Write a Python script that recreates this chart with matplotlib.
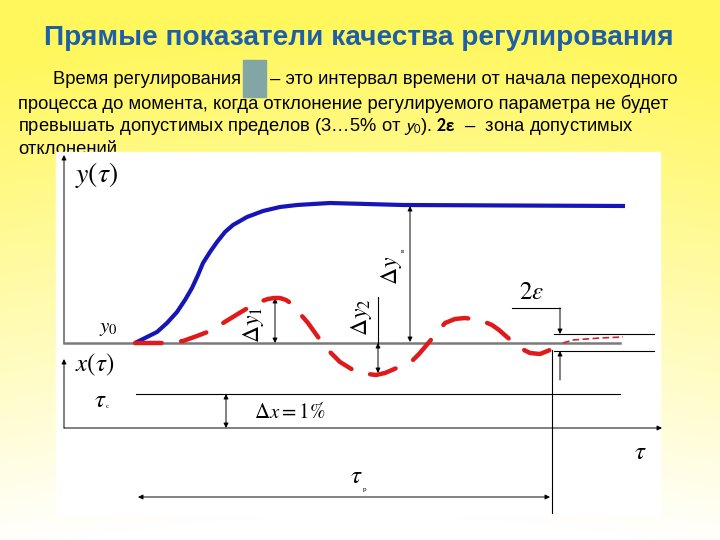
import numpy as np
import matplotlib.pyplot as plt
from matplotlib.patches import Rectangle

plt.rcParams['mathtext.fontset'] = 'stix'

# diagram coordinates: tau to the right from the y axis, y upward from the y0 line
tau_blue = [71, 83, 93, 103, 113, 121, 128, 134, 139, 146, 153, 161, 169, 183,
            199, 216, 233, 249, 266, 339, 561]
y_blue = [0, 6, 11, 20, 31, 43, 55, 68, 80, 91, 101, 111, 118, 126,
          132, 136, 138, 139, 140, 138, 137]

tau_red = [71, 85, 99, 109, 119, 133, 146, 164, 177, 189, 198, 204, 210, 216, 222, 228,
           233, 238, 244, 254, 264, 270, 276, 289, 297, 304, 312, 321, 335,
           349, 355, 361, 371, 381, 391, 401, 416, 428, 435, 443, 456, 466,
           476, 486, 499]
y_red = [0, 0, 0, 1, 2, 7, 12, 23, 31, 38, 42, 44, 45, 45, 43, 39,
         33, 27, 20, 6, -7, -13, -19, -27, -30, -31, -32, -30, -24,
         -17, -11, -4, 8, 20, 24, 25, 23, 18, 13, 6, -5, -10,
         -11, -7, 0]

tau_tail = [499, 509, 536, 559]
y_tail = [0, 3, 5, 6]

eps_band = [9, -8]          # 2ε zone around y0
x_step = -51                # level of x(τ) step
tau_axis = -85              # level of the τ axis
tau_reg = 488               # regulation time
tau_start = 72              # start of the step / transient

paragraph = [
    "процесса до момента, когда отклонение регулируемого параметра не будет",
    "превышать допустимых пределов (3…5% от $y_0$). $\\mathbf{2\\varepsilon}$  –  зона допустимых",
    "отклонений.",
]

fig = plt.figure(figsize=(7.2, 5.4), dpi=100)
ax = fig.add_axes([0, 0, 1, 1])
ax.set_xlim(-64, 656)
ax.set_ylim(-197, 343)
ax.axis('off')

# yellow slide background
gy, gx = np.mgrid[0:1:200j, 0:1:200j]
k = np.clip(1.05 - gy * 1.1 + 0.3 * (gx - 0.5) ** 2, 0, 1)
bg = np.dstack([np.ones_like(k), np.ones_like(k) * (1 - 0.03 * k), 1 - 0.64 * k])
ax.imshow(bg, extent=(-64, 656, -197, 343), aspect='auto', zorder=0)

# title and text
ax.text(295, 305, "Прямые показатели качества регулирования", ha='center', va='center',
        fontsize=20.2, fontweight='bold', color='#1f5fa8', family='Liberation Sans', zorder=2)
txt = dict(fontsize=13.2, va='center', family=['Liberation Sans Narrow', 'Liberation Sans'],
           math_fontfamily='stixsans', zorder=2)
ax.text(-11, 263, "Время регулирования", **txt)
ax.add_patch(Rectangle((179, 246), 23, 37, color='#82a6a6', zorder=2))
ax.text(206, 263, "– это интервал времени от начала переходного", **txt)
for i, line in enumerate(paragraph):
    ax.text(-46, 239 - i * 22.5, line, **txt)

# white diagram panel
ax.add_patch(Rectangle((-8, -172), 604, 363, color='white', zorder=3))

Z = 4
line_k = dict(color='black', lw=0.8, zorder=Z)
arr = dict(arrowstyle='<|-|>', color='black', lw=0.7, mutation_scale=7, shrinkA=0, shrinkB=0)
one = dict(arrowstyle='-|>', color='black', lw=0.7, mutation_scale=7, shrinkA=0, shrinkB=0)

# axes
ax.annotate('', xy=(0, 188), xytext=(0, 0), arrowprops=one, zorder=Z)
ax.annotate('', xy=(0, -16), xytext=(0, tau_axis), arrowprops=one, zorder=Z)
ax.annotate('', xy=(598, tau_axis), xytext=(0, tau_axis), arrowprops=one, zorder=Z)
ax.plot([0, 556], [0, 0], color='#7a7a7a', lw=1.8, zorder=Z)

# 2ε band and regulation time
for e in eps_band:
    ax.plot([490, 590], [e, e], **line_k)
ax.plot([448, 496], [35, 35], **line_k)
ax.annotate('', xy=(496, eps_band[0]), xytext=(496, 35), arrowprops=one, zorder=Z)
ax.annotate('', xy=(496, eps_band[1]), xytext=(496, -37), arrowprops=one, zorder=Z)
ax.plot([tau_reg, tau_reg], [-7, -170], **line_k)
ax.annotate('', xy=(tau_start + 2, -154), xytext=(tau_reg - 2, -154), arrowprops=arr, zorder=Z)

# input step x(τ)
ax.plot([tau_start, 556], [x_step, x_step], **line_k)
ax.annotate('', xy=(162, x_step), xytext=(162, tau_axis), arrowprops=arr, zorder=Z)

# curves
ax.plot(tau_blue, y_blue, color='#1616b8', lw=3.0, solid_capstyle='butt',
        solid_joinstyle='round', zorder=Z + 1)
ax.plot(tau_red, y_red, color='#e01a1a', lw=3.2, dashes=(6.0, 4.4),
        dash_capstyle='round', dash_joinstyle='round', zorder=Z + 1)
ax.plot(tau_tail, y_tail, color='#c82828', lw=1.2, dashes=(4, 2), zorder=Z + 1)

# deviation arrows
ax.annotate('', xy=(211, 45), xytext=(211, 0), arrowprops=arr, zorder=Z)
ax.plot([314, 314], [0, 46], **line_k)
ax.annotate('', xy=(314, 0), xytext=(314, -30), arrowprops=arr, zorder=Z)
ax.annotate('', xy=(346, 137), xytext=(346, 1), arrowprops=arr, zorder=Z)

# labels
ser = dict(zorder=Z + 2, color='black', ha='center', va='center')
ax.text(33, 168, r'$y(\tau)$', fontsize=20, **ser)
ax.text(44, 15, r'$y_0$', fontsize=15, **ser)
ax.text(31, -22, r'$x(\tau)$', fontsize=18, **ser)
ax.text(36, -57, r'$\tau$', fontsize=18, **ser)
ax.text(43, -64, 'с', fontsize=5, family='Liberation Serif', **ser)
ax.text(190, -69, r'$\Delta x = 1\%$', fontsize=15, ha='left', va='center', zorder=Z + 2)
ax.text(576, -109, r'$\tau$', fontsize=18, **ser)
ax.text(292, -133, r'$\tau$', fontsize=18, **ser)
ax.text(301, -147, 'р', fontsize=5, family='Liberation Serif', **ser)
ax.text(468, 51, r'$2\varepsilon$', fontsize=18, **ser)
ax.text(189, 18, r'$\Delta y_1$', fontsize=17, rotation=90, **ser)
ax.text(298, 26, r'$\Delta y_2$', fontsize=17, rotation=90, **ser)
ax.text(328, 73, r'$\Delta y$', fontsize=17, rotation=90, **ser)
ax.text(339, 93, 'в', fontsize=5, family='Liberation Serif', rotation=90, **ser)

fig.savefig('out.png', dpi=100)
